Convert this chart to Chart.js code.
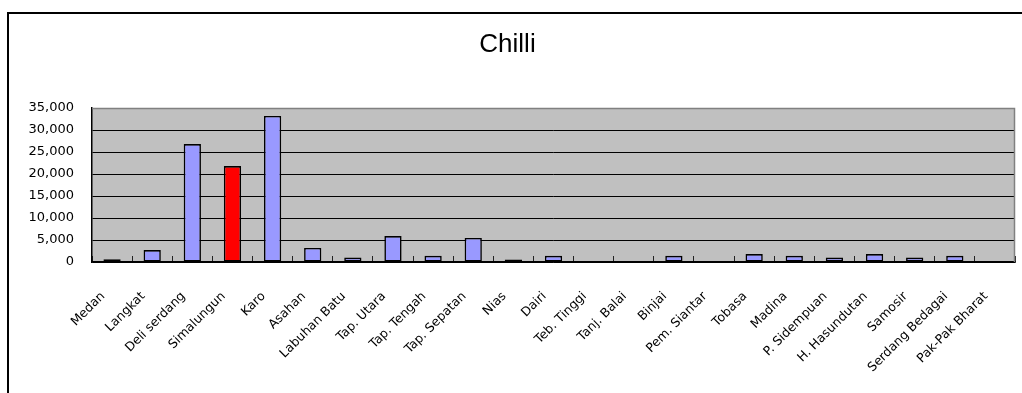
<!DOCTYPE html>
<html>
<head>
<meta charset="utf-8">
<script src="https://cdn.jsdelivr.net/npm/chart.js@4/dist/chart.umd.min.js"></script>
<style>
  html, body { margin: 0; padding: 0; background: #fff; overflow: hidden; }
  #frame {
    position: absolute; left: 7px; top: 12px; width: 1100px; height: 500px;
    border-top: 2px solid #000; border-left: 2px solid #000;
  }
  #wrap { position: absolute; left: 0; top: 0; width: 1022px; height: 393px; }
</style>
</head>
<body>
<div id="frame"></div>
<div id="wrap"><canvas id="chart" width="1022" height="393"></canvas></div>
<script>
// Regencies / cities of North Sumatra
const categories = [
  'Medan', 'Langkat', 'Deli serdang', 'Simalungun', 'Karo', 'Asahan',
  'Labuhan Batu', 'Tap. Utara', 'Tap. Tengah', 'Tap. Sepatan', 'Nias', 'Dairi',
  'Teb. Tinggi', 'Tanj. Balai', 'Binjai', 'Pem. Siantar', 'Tobasa', 'Madina',
  'P. Sidempuan', 'H. Hasundutan', 'Samosir', 'Serdang Bedagai', 'Pak-Pak Bharat'
];

// Chilli production per region
const chilliValues = [
  600, 2700, 26800, 21800, 33200, 3200,
  1000, 5900, 1400, 5450, 550, 1400,
  0, 0, 1400, 0, 1800, 1400,
  1000, 1800, 1000, 1400, 0
];

// Value-axis ticks
const yTicks = [0, 5000, 10000, 15000, 20000, 25000, 30000, 35000];

const highlighted = 'Simalungun';

const plotBackground = {
  id: 'plotBackground',
  beforeDraw(chart) {
    const { ctx, chartArea: a } = chart;
    ctx.save();
    ctx.fillStyle = '#c0c0c0';
    ctx.fillRect(a.left, a.top, a.right - a.left, a.bottom - a.top);
    ctx.restore();
  },
  afterDatasetsDraw(chart) {
    const { ctx, chartArea: a } = chart;
    ctx.save();
    ctx.strokeStyle = '#808080';
    ctx.lineWidth = 1.5;
    ctx.beginPath();
    ctx.moveTo(a.left, a.top + 0.5);
    ctx.lineTo(a.right - 0.5, a.top + 0.5);
    ctx.lineTo(a.right - 0.5, a.bottom);
    ctx.stroke();
    ctx.restore();
  }
};

const labelFont = "'DejaVu Sans', 'Liberation Sans', Arial, sans-serif";

new Chart(document.getElementById('chart'), {
  type: 'bar',
  data: {
    labels: categories,
    datasets: [{
      data: chilliValues,
      backgroundColor: (c) => categories[c.dataIndex] === highlighted ? '#ff0000' : '#9999ff',
      borderColor: '#000',
      borderWidth: 1.6,
      borderSkipped: false,
      categoryPercentage: 1,
      barPercentage: 0.43
    }]
  },
  plugins: [plotBackground],
  options: {
    responsive: false,
    animation: false,
    layout: { padding: { left: 0, right: 7, top: 0, bottom: 0 } },
    plugins: {
      legend: { display: false },
      tooltip: { enabled: false },
      title: {
        display: true,
        text: 'Chilli',
        color: '#000',
        font: { family: "'Liberation Sans', Arial, sans-serif", size: 26, weight: 'normal', lineHeight: 1.2 },
        padding: { top: 29.4, bottom: 47.4 }
      }
    },
    scales: {
      x: {
        grid: {
          offset: true,
          drawOnChartArea: false,
          drawTicks: true,
          tickLength: -6,
          color: '#222',
          lineWidth: 1
        },
        border: { display: true, color: '#000', width: 1.5 },
        ticks: {
          color: '#000',
          autoSkip: false,
          minRotation: 45,
          maxRotation: 45,
          padding: 33,
          labelOffset: -9,
          font: { family: labelFont, size: 12.5 }
        },
        afterFit(scale) {
          scale.height = 131;
          scale.paddingLeft = 0;
          scale.paddingRight = 0;
        }
      },
      y: {
        min: 0,
        max: 35000,
        afterBuildTicks(scale) { scale.ticks = yTicks.map(v => ({ value: v })); },
        grid: {
          drawTicks: false,
          color: (c) => c.tick && c.tick.value === 35000 ? '#808080' : '#000',
          lineWidth: 1
        },
        border: { display: true, color: '#000', width: 1.5 },
        ticks: {
          color: '#000',
          padding: 18,
          font: { family: labelFont, size: 13 },
          callback: (v) => Number(v).toLocaleString('en-US')
        },
        afterFit(scale) {
          scale.width = 92;
          scale.paddingTop = 0;
          scale.paddingBottom = 0;
        }
      }
    }
  }
});
</script>
</body>
</html>
